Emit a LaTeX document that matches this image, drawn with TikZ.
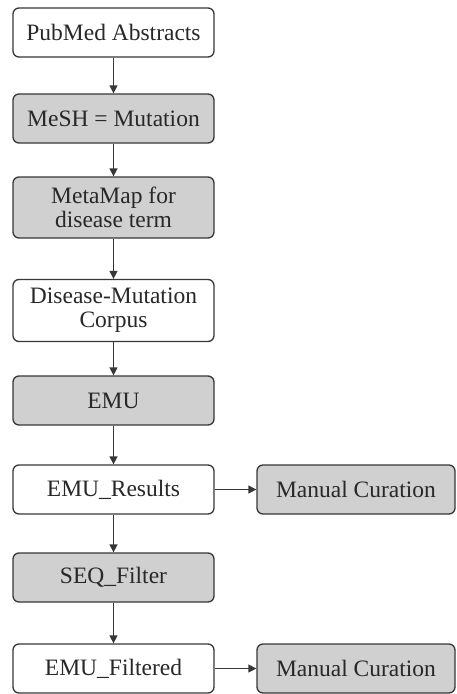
\documentclass[tikz,border=0pt]{standalone}
\usepackage{fontspec}
\setmainfont{Liberation Serif}
\usetikzlibrary{arrows.meta}
\definecolor{boxline}{RGB}{55,55,55}
\definecolor{boxfill}{RGB}{208,208,208}
\definecolor{txt}{RGB}{40,40,40}
\tikzset{
  flowbox/.style={draw=boxline, line width=1.3pt, rounded corners=6pt, align=center,
    text=txt, inner sep=0pt, minimum width=201pt, minimum height=49pt,
    font=\fontsize{23.5}{24}\selectfont},
  whitebox/.style={flowbox, fill=white},
  graybox/.style={flowbox, fill=boxfill},
  sidebox/.style={graybox, minimum width=198pt},
  conn/.style={draw=boxline, line width=1.3pt, -{Triangle[length=8pt,width=8pt]}}
}
\begin{document}
\begin{tikzpicture}[x=1pt,y=1pt]
\useasboundingbox (0,0) rectangle (456,-694);
\node[whitebox] (pub) at (113.5,-32.5) {PubMed Abstracts};
\node[graybox] (mesh) at (113.5,-118.5) {MeSH = Mutation};
\node[graybox, minimum height=61pt] (meta) at (113.5,-207.5) {MetaMap for\\disease term};
\node[whitebox, minimum height=62pt] (corp) at (113.5,-310.5) {Disease-Mutation\\Corpus};
\node[graybox] (emu) at (113.5,-400.5) {EMU};
\node[whitebox] (res) at (113.5,-489.5) {EMU\_Results};
\node[graybox] (seq) at (113.5,-577.5) {SEQ\_Filter};
\node[whitebox] (filt) at (113.5,-668.5) {EMU\_Filtered};
\node[sidebox] (mc1) at (356,-489.5) {Manual Curation};
\node[sidebox] (mc2) at (356,-668.5) {Manual Curation};
\draw[conn] (pub) -- (mesh);
\draw[conn] (mesh) -- (meta);
\draw[conn] (meta) -- (corp);
\draw[conn] (corp) -- (emu);
\draw[conn] (emu) -- (res);
\draw[conn] (res) -- (seq);
\draw[conn] (seq) -- (filt);
\draw[conn] (res) -- (mc1);
\draw[conn] (filt) -- (mc2);
\end{tikzpicture}
\end{document}
